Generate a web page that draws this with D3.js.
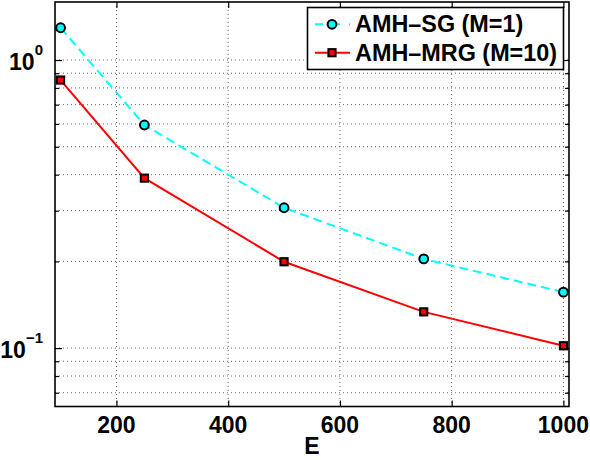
<!DOCTYPE html>
<html><head><meta charset="utf-8">
<script src="https://cdn.jsdelivr.net/npm/d3@7"></script>
<style>body{margin:0;background:#fff}svg{display:block}</style>
</head><body><svg id="c" width="590" height="460"></svg>
<script>
const xValues = [100, 250, 500, 750, 1000];
const sgValues = [1.294, 0.595, 0.307, 0.204, 0.1564];
const mrgValues = [0.852, 0.389, 0.1994, 0.1336, 0.1019];
const seriesNames = ["AMH\u2013SG (M=1)", "AMH\u2013MRG (M=10)"];
const xTicks = [200, 400, 600, 800, 1000];
const yMajor = [0.1, 1];
const yMinor = [0.07, 0.08, 0.09, 0.2, 0.3, 0.4, 0.5, 0.6, 0.7, 0.8, 0.9];
const xLabel = "E";

const font = "'Liberation Sans', Arial, Helvetica, sans-serif";
const svg = d3.select("#c");
const L = 55, R = 569, T = 2, B = 406.5;
const x = d3.scaleLinear().domain([90, 1010]).range([L, R]);
const y = d3.scaleLog().domain([0.0627, 1.59]).range([B, T]);

// grid
const grid = svg.append("g").attr("stroke", "#666").attr("stroke-width", 1).attr("stroke-dasharray", "1,3");
xTicks.forEach(v => grid.append("line").attr("x1", x(v)).attr("x2", x(v)).attr("y1", T).attr("y2", B));
yMajor.concat(yMinor).forEach(v => grid.append("line").attr("x1", L).attr("x2", R).attr("y1", y(v)).attr("y2", y(v)));

// axes via d3 axis
const axB = d3.axisBottom(x).tickValues(xTicks).tickSize(-6).tickFormat("");
const axT = d3.axisTop(x).tickValues(xTicks).tickSize(-6).tickFormat("");
const axL = d3.axisLeft(y).tickValues(yMajor).tickSize(-7).tickFormat("");
const axR = d3.axisRight(y).tickValues(yMajor).tickSize(-7).tickFormat("");
const axLm = d3.axisLeft(y).tickValues(yMinor).tickSize(-4).tickFormat("");
const axRm = d3.axisRight(y).tickValues(yMinor).tickSize(-4).tickFormat("");
function styleAx(g){ g.select(".domain").remove(); g.selectAll("line").attr("stroke","#000").attr("stroke-width",1.2); }
svg.append("g").attr("transform", `translate(0,${B})`).call(axB).call(styleAx);
svg.append("g").attr("transform", `translate(0,${T})`).call(axT).call(styleAx);
svg.append("g").attr("transform", `translate(${L},0)`).call(axL).call(styleAx);
svg.append("g").attr("transform", `translate(${R},0)`).call(axR).call(styleAx);
svg.append("g").attr("transform", `translate(${L},0)`).call(axLm).call(styleAx);
svg.append("g").attr("transform", `translate(${R},0)`).call(axRm).call(styleAx);
svg.append("rect").attr("x", L).attr("y", T).attr("width", R - L).attr("height", B - T)
  .attr("fill", "none").attr("stroke", "#000").attr("stroke-width", 1.6);

// tick labels
xTicks.forEach(v => svg.append("text").attr("x", x(v)).attr("y", 433).attr("text-anchor", "middle")
  .attr("font-family", font).attr("font-weight", "bold").attr("font-size", 23).text(v));
const yLab = [{v: 1, e: "0"}, {v: 0.1, e: "\u22121"}];
yLab.forEach(d => {
  const t = svg.append("text").attr("x", 43).attr("y", y(d.v) + 9.5).attr("text-anchor", "end")
    .attr("font-family", font).attr("font-weight", "bold").attr("font-size", 23);
  t.append("tspan").text("10");
  t.append("tspan").attr("dy", -15).attr("font-size", 15).text(d.e);
});
svg.append("text").attr("x", (L + R) / 2).attr("y", 454).attr("text-anchor", "middle")
  .attr("font-family", font).attr("font-weight", "bold").attr("font-size", 23).text(xLabel);

// lines
const line = d3.line().x(d => x(d[0])).y(d => y(d[1]));
const sg = xValues.map((v, i) => [v, sgValues[i]]);
const mrg = xValues.map((v, i) => [v, mrgValues[i]]);
svg.append("path").datum(sg).attr("d", line).attr("fill", "none").attr("stroke", "#00ffff")
  .attr("stroke-width", 2).attr("stroke-dasharray", "9,5");
svg.append("path").datum(mrg).attr("d", line).attr("fill", "none").attr("stroke", "#ff0000").attr("stroke-width", 2);
svg.selectAll(".c").data(sg).join("circle").attr("cx", d => x(d[0])).attr("cy", d => y(d[1])).attr("r", 4.4)
  .attr("fill", "#00ffff").attr("stroke", "#000").attr("stroke-width", 2);
svg.selectAll(".s").data(mrg).join("rect").attr("x", d => x(d[0]) - 3.6).attr("y", d => y(d[1]) - 3.6)
  .attr("width", 7.2).attr("height", 7.2).attr("fill", "#ff0000").attr("stroke", "#000").attr("stroke-width", 2);

// legend
svg.append("rect").attr("x", 307.5).attr("y", 7.5).attr("width", 256).attr("height", 62)
  .attr("fill", "#fff").attr("stroke", "#000").attr("stroke-width", 1.6);
const rows = [24.3, 52.7];
svg.append("line").attr("x1", 315).attr("x2", 350).attr("y1", rows[0]).attr("y2", rows[0])
  .attr("stroke", "#00ffff").attr("stroke-width", 2).attr("stroke-dasharray", "8,9");
svg.append("circle").attr("cx", 332).attr("cy", rows[0]).attr("r", 4.4).attr("fill", "#00ffff").attr("stroke", "#000").attr("stroke-width", 2);
svg.append("line").attr("x1", 315).attr("x2", 350).attr("y1", rows[1]).attr("y2", rows[1])
  .attr("stroke", "#ff0000").attr("stroke-width", 2);
svg.append("rect").attr("x", 328.4).attr("y", rows[1] - 3.6).attr("width", 7.2).attr("height", 7.2)
  .attr("fill", "#ff0000").attr("stroke", "#000").attr("stroke-width", 2);
seriesNames.forEach((n, i) => svg.append("text").attr("x", 355).attr("y", rows[i] + 8)
  .attr("font-family", font).attr("font-weight", "bold").attr("font-size", 23.4).text(n));
</script></body></html>
